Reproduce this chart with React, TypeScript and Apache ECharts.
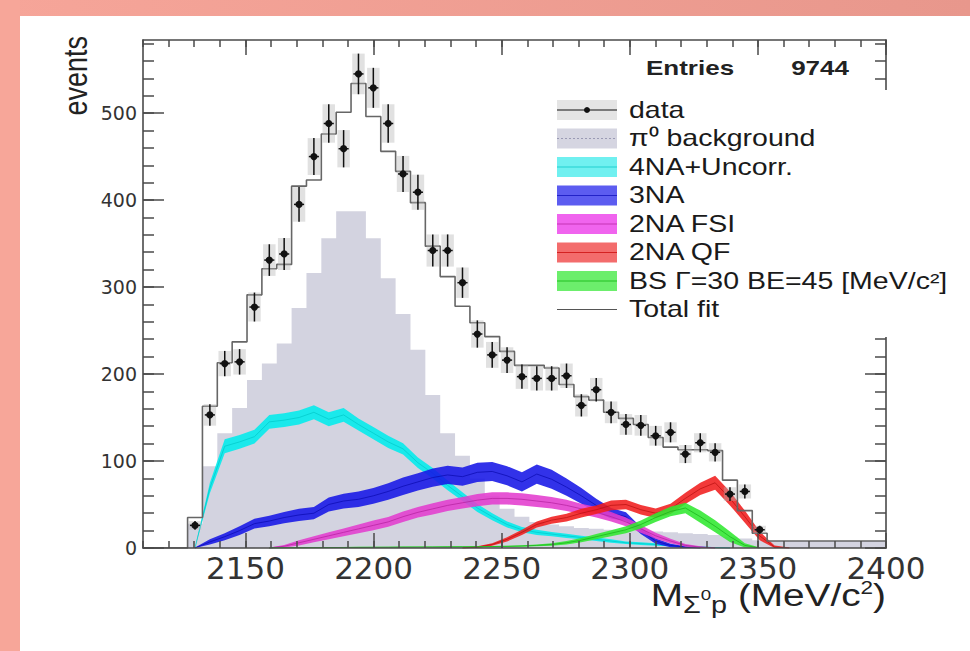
import React, { useEffect, useRef } from "react";
import * as echarts from "echarts";

// ---------------- histogram binning ----------------
const BIN_MIN = 2110;
const BIN_MAX = 2400;
const BIN_COUNT = 50;
const BIN_WIDTH = (BIN_MAX - BIN_MIN) / BIN_COUNT; // 5.8 MeV/c^2
const Y_MAX = 584;

// ---------------- tick labels ----------------
const xTickLabels = [2150, 2200, 2250, 2300, 2350, 2400];
const yTickLabels = [0, 100, 200, 300, 400, 500];

// ---------------- measured data (events per bin) ----------------
const dataCounts = [
  0, 0, 0, 26, 153, 212, 214, 277, 331, 338,
  395, 450, 488, 459, 545, 529, 488, 430, 409, 342,
  342, 305, 246, 222, 216, 197, 195, 195, 198, 164,
  182, 156, 142, 141, 129, 133, 108, 121, 110, 62,
  65, 21, 0, 0, 0, 0, 0, 0, 0, 0,
];

const totalFit = [
  0, 0, 0, 35, 163, 213, 237, 291, 321, 326,
  416, 423, 476, 501, 534, 496, 456, 433, 397, 347,
  312, 278, 259, 243, 226, 210, 210, 207, 188, 174,
  170, 156, 149, 142, 127, 116, 113, 113, 112, 78,
  43, 17, 8, 8, 8, 8, 8, 8, 8, 8,
];

const pi0Background = [
  0, 0, 0, 28, 94, 132, 161, 193, 212, 235,
  276, 316, 356, 387, 387, 356, 310, 269, 228, 176,
  132, 106, 80, 60, 45, 36, 30, 27, 25, 23,
  22, 21, 20, 20, 19, 18, 17, 16, 15, 13,
  11, 9, 8, 8, 8, 8, 8, 8, 8, 8,
];

// ---------------- fit component bands (centre, half width) per bin ----------------
const N = null;
const cyanCenter = [
  N, N, N, 0, 69, 117, 122, 128, 145, 147,
  150, 156, 148, 153, 142, 132, 122, 114, 98, 86,
  72, 59, 46, 36, 27, 21, 18, 16, 14, 12,
  10, 8, 6, 5, 4, 3, 2, 1, 0.5, 0,
  N, N, N, N, N, N, N, N, N, N,
];
const cyanHalf = [
  N, N, N, 0.5, 6, 8, 8, 8, 8, 8,
  8, 8, 8, 8, 7, 7, 7, 6.5, 6, 6,
  5.5, 5, 4.5, 4, 3.5, 3, 3, 2.5, 2.5, 2,
  2, 2, 1.5, 1.5, 1.5, 1, 1, 1, 0.5, 0.5,
  N, N, N, N, N, N, N, N, N, N,
];

const blueCenter = [
  N, N, N, 0, 7, 13, 20, 28, 31, 35,
  38, 40, 50, 54, 56, 60, 65, 71, 76, 81,
  84, 82, 87, 88, 83, 76, 85, 79, 70, 60,
  49, 40, 36, 20, 8, 3, 1, 0, N, N,
  N, N, N, N, N, N, N, N, N, N,
];
const blueHalf = [
  N, N, N, 0.5, 3, 4, 5, 5.5, 6, 6.5,
  7, 7, 8, 8.5, 9, 9, 9.5, 10, 10, 10.5,
  10.5, 10.5, 11, 11, 11, 11, 11, 11, 10, 9,
  7.5, 6, 5, 4, 3, 2, 1, 0.5, N, N,
  N, N, N, N, N, N, N, N, N, N,
];

const magentaCenter = [
  N, N, N, N, N, N, N, N, 0, 2,
  6, 10, 14, 18, 22, 26, 30, 36, 41, 45,
  49, 52, 55, 57, 57, 56, 54, 52, 49, 45,
  41, 36, 30, 22, 14, 8, 3, 1, 0, N,
  N, N, N, N, N, N, N, N, N, N,
];
const magentaHalf = [
  N, N, N, N, N, N, N, N, 0.5, 1.5,
  3, 3.5, 4, 4.5, 5, 5.5, 5.5, 6, 6, 6.5,
  6.5, 6.5, 7, 7, 7, 7, 7, 6.5, 6.5, 6,
  6, 5.5, 5, 4.5, 3.5, 2.5, 1.5, 1, 0.5, N,
  N, N, N, N, N, N, N, N, N, N,
];

const redCenter = [
  N, N, N, N, N, N, N, N, N, N,
  N, N, N, N, N, N, N, N, N, N,
  N, 0, 1, 4, 10, 18, 27, 32, 35, 40,
  44, 49, 50, 44, 40, 45, 57, 68, 75, 57,
  36, 14, 1, 0, N, N, N, N, N, N,
];
const redHalf = [
  N, N, N, N, N, N, N, N, N, N,
  N, N, N, N, N, N, N, N, N, N,
  N, 0.5, 1, 1.5, 2.5, 3, 3.5, 4, 4.5, 5,
  5, 5.5, 5.5, 5.5, 5.5, 6, 6.5, 7, 8, 8,
  7, 5, 2, 0.5, N, N, N, N, N, N,
];

const greenCenter = [
  N, N, N, N, N, N, N, N, 0, 0.2,
  0.3, 0.4, 0.5, 0.6, 0.7, 0.8, 0.9, 1, 1.1, 1.2,
  1.3, 1.4, 1.5, 1.7, 1.9, 2.3, 3, 4, 6, 9,
  13, 17, 21, 27, 35, 42, 46, 36, 25, 13,
  3, 0, N, N, N, N, N, N, N, N,
];
const greenHalf = [
  N, N, N, N, N, N, N, N, 0.5, 0.6,
  0.6, 0.6, 0.6, 0.6, 0.6, 0.6, 0.6, 0.6, 0.6, 0.6,
  0.6, 0.6, 0.6, 0.6, 0.7, 0.8, 1, 1.5, 2, 2.5,
  3, 3.5, 4, 4.5, 5, 5.5, 6, 7, 7, 6,
  2.5, 0.5, N, N, N, N, N, N, N, N,
];

// ---------------- legend ----------------
const legendLabels = [
  "data",
  "π⁰ background",
  "4NA+Uncorr.",
  "3NA",
  "2NA FSI",
  "2NA QF",
  "BS Γ=30 BE=45 [MeV/c²]",
  "Total fit",
];
const legendFills = ["#e4e4e4", "#d5d5e1", "#70f0f0", "#5c5cf0", "#f064ee", "#f36c6c", "#6cee6c", null];
const legendLines = ["#111111", "#9a9ab4", "#20d0d0", "#2222c8", "#c434b4", "#d42222", "#22c022", "#555555"];

const statsLabel = "Entries";
const statsValue = "9744";

// ---------------- helpers ----------------
const binLeft = (i: number) => BIN_MIN + i * BIN_WIDTH;
const binCenter = (i: number) => binLeft(i) + BIN_WIDTH / 2;

const stepPoints = (vals: number[]) =>
  vals.map((v, i) => [binLeft(i), v]).concat([[BIN_MAX, vals[vals.length - 1]]]);

const xMinorTicks: number[] = [];
for (let v = BIN_MIN; v <= BIN_MAX; v += 10) xMinorTicks.push(v);
const yMinorTicks: number[] = [];
for (let v = 0; v <= Y_MAX; v += 20) yMinorTicks.push(v);

const FONT = "'Liberation Sans', Arial, Helvetica, sans-serif";
const AXIS_COLOR = "#4a4a4a";

function bandSeries(
  name: string,
  centers: (number | null)[],
  halfs: (number | null)[],
  fill: string,
  line: string,
  z: number
) {
  const rows: number[][] = [];
  centers.forEach((m, i) => {
    if (m !== null) {
      const h = halfs[i] as number;
      rows.push([binCenter(i), Math.max(0, m - h), m + h, m]);
    }
  });
  return {
    type: "custom",
    name,
    z,
    silent: true,
    data: rows,
    encode: { x: 0, y: [1, 2] },
    renderItem: (params: any, api: any) => {
      if (params.dataIndex !== 0) return null;
      const upper = rows.map((r) => api.coord([r[0], r[2]]));
      const lower = rows
        .slice()
        .reverse()
        .map((r) => api.coord([r[0], r[1]]));
      const mid = rows.map((r) => api.coord([r[0], r[3]]));
      return {
        type: "group",
        children: [
          {
            type: "polygon",
            shape: { points: upper.concat(lower) },
            style: { fill, opacity: 0.88 },
          },
          {
            type: "polyline",
            shape: { points: mid },
            style: { stroke: line, lineWidth: 0.8, fill: null, opacity: 0.9 },
          },
        ],
      };
    },
  };
}

const plainNumber = (v: number) => String(v);

function makeXAxis(position: string, major: boolean, showLine: boolean, showLabel: boolean) {
  return {
    type: "value",
    position,
    min: BIN_MIN,
    max: BIN_MAX,
    z: 10,
    splitLine: { show: false },
    axisLine: { show: showLine, onZero: false, lineStyle: { color: AXIS_COLOR, width: 1.6 } },
    axisTick: {
      show: true,
      inside: true,
      length: major ? 15 : 7,
      customValues: major ? xTickLabels : xMinorTicks,
      lineStyle: { color: AXIS_COLOR, width: 1.5 },
    },
    axisLabel: showLabel
      ? {
          show: true,
          customValues: xTickLabels,
          formatter: plainNumber,
          margin: 4,
          fontFamily: "'DejaVu Sans', sans-serif",
          fontSize: 31,
          color: "#333",
        }
      : { show: false },
  };
}

function makeYAxis(position: string, major: boolean, showLine: boolean, showLabel: boolean) {
  return {
    type: "value",
    position,
    min: 0,
    max: Y_MAX,
    z: 10,
    splitLine: { show: false },
    axisLine: { show: showLine, onZero: false, lineStyle: { color: AXIS_COLOR, width: 1.6 } },
    axisTick: {
      show: true,
      inside: true,
      length: major ? 21 : 11,
      customValues: major ? yTickLabels : yMinorTicks,
      lineStyle: { color: AXIS_COLOR, width: 1.5 },
    },
    axisLabel: showLabel
      ? {
          show: true,
          customValues: yTickLabels,
          formatter: plainNumber,
          margin: 6,
          fontFamily: "'DejaVu Sans', sans-serif",
          fontSize: 19,
          color: "#333",
        }
      : { show: false },
  };
}

function buildGraphics() {
  const els: any[] = [];
  // salmon page border
  els.push({
    type: "rect",
    z: 100,
    shape: { x: 0, y: 0, width: 970, height: 16 },
    style: {
      fill: new echarts.graphic.LinearGradient(0, 0, 1, 0, [
        { offset: 0, color: "#f6a599" },
        { offset: 1, color: "#e8978c" },
      ]),
    },
  });
  els.push({
    type: "rect",
    z: 100,
    shape: { x: 0, y: 0, width: 20, height: 651 },
    style: { fill: "#f7a699" },
  });
  // legend background (covers the right frame)
  els.push({
    type: "rect",
    z: 100,
    shape: { x: 548, y: 90, width: 412, height: 247 },
    style: { fill: "#ffffff" },
  });
  legendLabels.forEach((label, k) => {
    const cy = 110 + k * 28.5;
    const fill = legendFills[k];
    if (fill) {
      els.push({
        type: "rect",
        z: 101,
        shape: { x: 557, y: cy - 10, width: 60, height: 20 },
        style: { fill },
      });
    }
    els.push({
      type: "line",
      z: 102,
      shape: { x1: 557, y1: cy, x2: 617, y2: cy },
      style: {
        stroke: legendLines[k],
        lineWidth: k === 0 ? 1.2 : 1,
        lineDash: k === 1 ? [2, 2] : null,
      },
    });
    if (k === 0) {
      els.push({
        type: "circle",
        z: 103,
        shape: { cx: 587, cy, r: 3 },
        style: { fill: "#111" },
      });
    }
    els.push({
      type: "text",
      z: 102,
      x: 629,
      y: cy,
      scaleX: 1.24,
      style: {
        text: label,
        x: 0,
        y: 0,
        fill: "#1a1a1a",
        fontSize: 23,
        fontFamily: FONT,
        textAlign: "left",
        align: "left",
        textVerticalAlign: "middle",
        verticalAlign: "middle",
      },
    });
  });
  // stats box
  els.push({
    type: "text",
    z: 102,
    x: 646,
    y: 68,
    scaleX: 1.3,
    style: {
      text: statsLabel,
      fill: "#222",
      fontSize: 20,
      fontWeight: "bold",
      fontFamily: FONT,
      textAlign: "left",
      align: "left",
      textVerticalAlign: "middle",
      verticalAlign: "middle",
    },
  });
  els.push({
    type: "text",
    z: 102,
    x: 849,
    y: 68,
    scaleX: 1.3,
    style: {
      text: statsValue,
      fill: "#222",
      fontSize: 20,
      fontWeight: "bold",
      fontFamily: FONT,
      textAlign: "right",
      align: "right",
      textVerticalAlign: "middle",
      verticalAlign: "middle",
    },
  });
  // y axis title
  els.push({
    type: "text",
    z: 102,
    x: 76,
    y: 36,
    rotation: Math.PI / 2,
    scaleY: 1.2,
    style: {
      text: "events",
      fill: "#222",
      fontSize: 27,
      fontFamily: FONT,
      textAlign: "right",
      align: "right",
      textVerticalAlign: "middle",
      verticalAlign: "middle",
    },
  });
  // x axis title
  els.push({
    type: "text",
    z: 102,
    x: 886,
    y: 595,
    scaleX: 1.25,
    style: {
      text: "{m|M}{s|Σ}{z|0}{s|p}{m| (MeV/c}{t|2}{m|)}",
      fill: "#222",
      fontFamily: FONT,
      fontSize: 31,
      textAlign: "right",
      align: "right",
      textVerticalAlign: "middle",
      verticalAlign: "middle",
      rich: {
        m: { fontSize: 31, lineHeight: 44, fontFamily: FONT, fill: "#222" },
        s: { fontSize: 23, lineHeight: 23, verticalAlign: "bottom", fontFamily: FONT, fill: "#222" },
        z: {
          fontSize: 15,
          lineHeight: 15,
          verticalAlign: "bottom",
          padding: [0, 0, 14, 0],
          fontFamily: FONT,
          fill: "#222",
        },
        t: {
          fontSize: 18,
          lineHeight: 18,
          verticalAlign: "top",
          padding: [6, 0, 0, 0],
          fontFamily: FONT,
          fill: "#222",
        },
      },
    },
  });
  return els;
}

export default function App() {
  const ref = useRef<HTMLDivElement>(null);

  useEffect(() => {
    if (!ref.current) return;
    const chart = echarts.init(ref.current, undefined, { renderer: "svg" });

    const dataPts = dataCounts
      .map((c, i) => (c > 0 ? [binCenter(i), c, Math.sqrt(c)] : null))
      .filter((d) => d !== null) as number[][];

    const option: any = {
      animation: false,
      backgroundColor: "#ffffff",
      grid: { left: 143, top: 40, right: 84, bottom: 103, containLabel: false },
      xAxis: [
        makeXAxis("bottom", false, true, true),
        makeXAxis("bottom", true, false, false),
        makeXAxis("top", false, true, false),
        makeXAxis("top", true, false, false),
      ],
      yAxis: [
        makeYAxis("left", false, true, true),
        makeYAxis("left", true, false, false),
        makeYAxis("right", false, true, false),
        makeYAxis("right", true, false, false),
      ],
      series: [
        {
          type: "line",
          name: "π⁰ background",
          step: "end",
          data: stepPoints(pi0Background),
          symbol: "none",
          silent: true,
          z: 1,
          lineStyle: { width: 0 },
          areaStyle: { color: "#d3d3e0", opacity: 1 },
        },
        bandSeries("4NA+Uncorr.", cyanCenter, cyanHalf, "#00ecec", "#00c8c8", 2),
        bandSeries("3NA", blueCenter, blueHalf, "#1616e6", "#0a0ab0", 2),
        bandSeries("2NA FSI", magentaCenter, magentaHalf, "#e23cce", "#b4209e", 2),
        bandSeries("2NA QF", redCenter, redHalf, "#f01e1e", "#b81010", 2),
        bandSeries("BS", greenCenter, greenHalf, "#30e830", "#18b018", 2),
        {
          type: "line",
          name: "Total fit",
          step: "end",
          data: stepPoints(totalFit),
          symbol: "none",
          silent: true,
          z: 5,
          lineStyle: { color: "#666666", width: 1.6 },
        },
        {
          type: "custom",
          name: "data",
          z: 6,
          silent: true,
          data: dataPts,
          encode: { x: 0, y: 1 },
          renderItem: (params: any, api: any) => {
            const x = api.value(0);
            const y = api.value(1);
            const e = api.value(2);
            const c = api.coord([x, y]);
            const t = api.coord([x, y + e]);
            const b = api.coord([x, Math.max(0, y - e)]);
            const bl = api.coord([x - BIN_WIDTH * 0.42, y]);
            const br = api.coord([x + BIN_WIDTH * 0.42, y]);
            const al = api.coord([x - BIN_WIDTH * 0.34, y]);
            const ar = api.coord([x + BIN_WIDTH * 0.34, y]);
            return {
              type: "group",
              children: [
                {
                  type: "rect",
                  shape: { x: bl[0], y: t[1], width: br[0] - bl[0], height: b[1] - t[1] },
                  style: { fill: "rgba(180,180,180,0.4)" },
                },
                {
                  type: "line",
                  shape: { x1: c[0], y1: t[1], x2: c[0], y2: b[1] },
                  style: { stroke: "#111", lineWidth: 1.5 },
                },
                {
                  type: "line",
                  shape: { x1: al[0], y1: c[1], x2: ar[0], y2: c[1] },
                  style: { stroke: "#111", lineWidth: 1.5 },
                },
                {
                  type: "circle",
                  shape: { cx: c[0], cy: c[1], r: 3.6 },
                  style: { fill: "#111" },
                },
              ],
            };
          },
        },
      ],
      graphic: { elements: buildGraphics() },
    };

    chart.setOption(option);
    return () => {
      chart.dispose();
    };
  }, []);

  return (
    <div
      ref={ref}
      style={{
        position: "fixed",
        left: 0,
        top: 0,
        width: 970,
        height: 651,
        background: "#ffffff",
      }}
    />
  );
}
